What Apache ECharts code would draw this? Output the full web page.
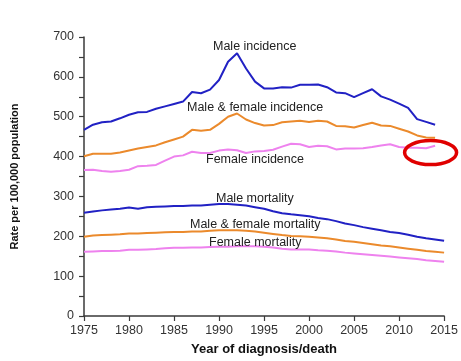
<!DOCTYPE html>
<html>
<head>
<meta charset="utf-8">
<script src="https://cdn.jsdelivr.net/npm/echarts@6/dist/echarts.min.js"></script>
<style>html,body{margin:0;padding:0;background:#fff}#c{width:461px;height:361px}</style>
</head>
<body>
<div id="c"></div>
<script>
var incidenceYears = [1975,1976,1977,1978,1979,1980,1981,1982,1983,1984,1985,1986,1987,1988,1989,1990,1991,1992,1993,1994,1995,1996,1997,1998,1999,2000,2001,2002,2003,2004,2005,2006,2007,2008,2009,2010,2011,2012,2013,2014];
var mortalityYears = [1975,1976,1977,1978,1979,1980,1981,1982,1983,1984,1985,1986,1987,1988,1989,1990,1991,1992,1993,1994,1995,1996,1997,1998,1999,2000,2001,2002,2003,2004,2005,2006,2007,2008,2009,2010,2011,2012,2013,2014,2015];

var maleIncidence = [467,480,486,488,496,505,511,512,520,526,532,538,562,559,568,592,638,659,621,588,571,571,574,573,580,580,581,574,561,559,549,559,569,551,543,533,522,494,487,480];
var bothIncidence = [401,407,407,407,410,415,420,424,428,436,443,450,467,465,467,482,500,508,493,484,478,479,486,488,490,487,490,488,477,476,473,479,485,478,477,470,463,453,448,447];
var femaleIncidence = [366,367,364,362,364,367,376,377,379,390,400,403,412,409,409,415,418,416,409,413,414,417,425,432,431,424,427,426,418,420,420,421,424,428,431,424,422,422,421,427];

var maleMortality = [259,262,265,267,269,272,269,273,274,275,276,276,277,277,279,281,281,279,277,273,269,263,258,255,253,250,246,243,238,232,228,223,219,215,211,208,204,199,195,192,189];
var bothMortality = [199,202,203,204,205,207,207,208,209,210,211,211,212,212,214,215,215,215,214,212,209,206,203,201,200,199,197,195,192,188,186,183,180,177,175,172,169,166,163,161,159];
var femaleMortality = [161,162,163,163,164,166,166,167,168,170,171,171,172,172,173,174,174,175,175,175,174,172,169,167,167,167,165,164,162,159,157,155,153,151,149,147,145,143,140,138,136];

var seriesNames = ['Male incidence','Male & female incidence','Female incidence','Male mortality','Male & female mortality','Female mortality'];
var yTitle = 'Rate per 100,000 population';
var xTitle = 'Year of diagnosis/death';
var circledPoint = [2013.5, 410];

function pairs(xs, ys){ return ys.map(function(v,i){ return [xs[i], v]; }); }

var BLUE = '#2121c4', ORANGE = '#eb8a2c', PINK = '#ee82ee';
var FONT = '"Liberation Sans", Arial, sans-serif';

function line(name, xs, ys, color){
  return { name: name, type: 'line', data: pairs(xs, ys), showSymbol: false, symbol: 'none',
    lineStyle: { color: color, width: 2 }, itemStyle: { color: color }, animation: false, z: 3 };
}

var chart = echarts.init(document.getElementById('c'), null, { renderer: 'canvas' });
var axisCol = '#3a3a3a';
chart.setOption({
  animation: false,
  backgroundColor: '#fff',
  grid: { left: 84, right: 16, top: 37, bottom: 44 },
  xAxis: {
    type: 'value', min: 1975, max: 2015, interval: 5,
    axisLine: { show: true, onZero: false, lineStyle: { color: axisCol, width: 1.5 } },
    axisTick: { show: true, length: 5, lineStyle: { color: axisCol, width: 1.2 } },
    axisLabel: { color: '#333', fontSize: 12.5, fontFamily: FONT, margin: 8, formatter: function(v){ return String(v); } },
    splitLine: { show: false },
    name: xTitle, nameLocation: 'middle', nameGap: 27,
    nameTextStyle: { fontWeight: 'bold', fontSize: 13, fontFamily: FONT, color: '#111' }
  },
  yAxis: {
    type: 'value', min: 0, max: 700, interval: 100,
    axisLine: { show: true, lineStyle: { color: axisCol, width: 1.5 } },
    axisTick: { show: true, length: 5, lineStyle: { color: axisCol, width: 1.2 } },
    minorTick: { show: true, splitNumber: 2, length: 5, lineStyle: { color: axisCol, width: 1.2 } },
    axisLabel: { color: '#333', fontSize: 12.5, fontFamily: FONT, margin: 10 },
    splitLine: { show: false },
    name: yTitle, nameLocation: 'middle', nameGap: 64, nameRotate: 90,
    nameTextStyle: { fontWeight: 'bold', fontSize: 11, fontFamily: FONT, color: '#111' }
  },
  series: [
    line(seriesNames[0], incidenceYears, maleIncidence, BLUE),
    line(seriesNames[1], incidenceYears, bothIncidence, ORANGE),
    line(seriesNames[2], incidenceYears, femaleIncidence, PINK),
    line(seriesNames[3], mortalityYears, maleMortality, BLUE),
    line(seriesNames[4], mortalityYears, bothMortality, ORANGE),
    line(seriesNames[5], mortalityYears, femaleMortality, PINK)
  ]
});

var labelPos = [[213,47],[187,108],[206,160],[216,199],[190,225],[209,243]];
var texts = seriesNames.map(function(n,i){
  return { type: 'text', left: labelPos[i][0], top: labelPos[i][1] - 7,
    style: { text: n, fill: '#222', font: '12.5px ' + FONT }, z: 10 };
});
var c = chart.convertToPixel({ gridIndex: 0 }, circledPoint);
texts.push({ type: 'ellipse', shape: { cx: c[0], cy: c[1], rx: 26, ry: 12 },
  style: { fill: 'none', stroke: '#e00000', lineWidth: 3.5 }, z: 20 });
chart.setOption({ graphic: texts });
</script>
</body>
</html>
